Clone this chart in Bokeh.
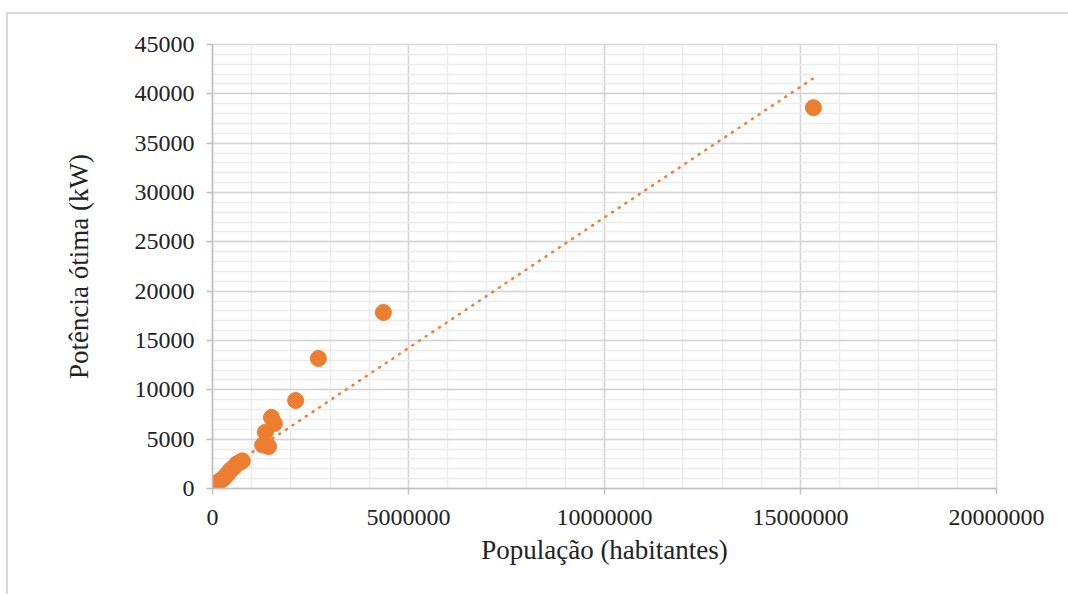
import numpy as np
from bokeh.plotting import figure
from bokeh.models import SingleIntervalTicker, BasicTickFormatter, Range1d
from bokeh.embed import file_html
from bokeh.resources import INLINE

# Data
populacao = [5000, 10000, 15000, 25000, 30000, 40000, 60000, 70000, 90000, 110000,
             160000, 220000, 280000, 340000, 390000,
             440000, 500000, 560000, 620000, 700000, 760000,
             1280000, 1430000, 1350000, 1505000, 1580000,
             2120000, 2700000, 4360000, 15330000]
potencia = [30, 50, 100, 120, 150, 200, 250, 350, 400, 500,
            700, 850, 1000, 1300, 1500,
            1800, 2000, 2200, 2500, 2650, 2800,
            4400, 4250, 5700, 7200, 6600,
            8920, 13180, 17840, 38600]

x_ticks_interval = 5000000
y_ticks_interval = 5000
x_range = (0, 20000000)
y_range = (0, 45000)

ORANGE = "#ED7D31"
FONT = "Liberation Serif"

p = figure(frame_width=784, frame_height=444,
           min_border_left=204, min_border_right=72,
           min_border_top=30, min_border_bottom=106,
           x_range=Range1d(*x_range), y_range=Range1d(*y_range),
           output_backend="svg", toolbar_location=None)
p.margin = (12, 0, 0, 6)
p.styles = {"border-left": "2px solid #d9d9d9", "border-top": "2px solid #d9d9d9"}
p.outline_line_color = "#d9d9d9"
p.outline_line_width = 1.5

p.xaxis.ticker = SingleIntervalTicker(interval=x_ticks_interval, num_minor_ticks=5)
p.yaxis.ticker = SingleIntervalTicker(interval=y_ticks_interval, num_minor_ticks=5)
p.xaxis.formatter = BasicTickFormatter(use_scientific=False)
p.yaxis.formatter = BasicTickFormatter(use_scientific=False)

for g in (p.xgrid, p.ygrid):
    g.grid_line_color = "#d4d4d4"
    g.grid_line_width = 1.5
    g.minor_grid_line_color = "#ececec"
    g.minor_grid_line_width = 1.5

for ax in (p.xaxis, p.yaxis):
    ax.axis_line_color = "#bfbfbf"
    ax.axis_line_width = 1.5
    ax.major_tick_line_color = "#bfbfbf"
    ax.major_tick_line_width = 1.5
    ax.major_tick_out = 6
    ax.major_tick_in = 0
    ax.minor_tick_line_color = None
    ax.major_label_text_font = FONT
    ax.major_label_text_font_size = "24px"
    ax.major_label_text_color = "#222222"
    ax.axis_label_text_font = FONT
    ax.axis_label_text_font_size = "27px"
    ax.axis_label_text_font_style = "normal"
    ax.axis_label_text_color = "#222222"

p.xaxis.axis_label = "População (habitantes)"
p.yaxis.axis_label = "Potência ótima (kW)"
p.xaxis.major_label_standoff = 15
p.yaxis.major_label_standoff = 12
p.xaxis.axis_label_standoff = 7
p.yaxis.axis_label_standoff = 38

# Linear trendline (least squares fit of the data)
xs = np.array(populacao, dtype=float)
ys = np.array(potencia, dtype=float)
a, b = np.polyfit(xs, ys, 1)
tx = np.array([xs.min(), xs.max()])
p.line(tx, a * tx + b, line_color=ORANGE, line_width=2.5,
       line_dash="1 7", line_cap="round")

p.scatter(populacao, potencia, size=16, fill_color=ORANGE, line_color=ORANGE)

open("out.html", "w").write(file_html(p, INLINE))
